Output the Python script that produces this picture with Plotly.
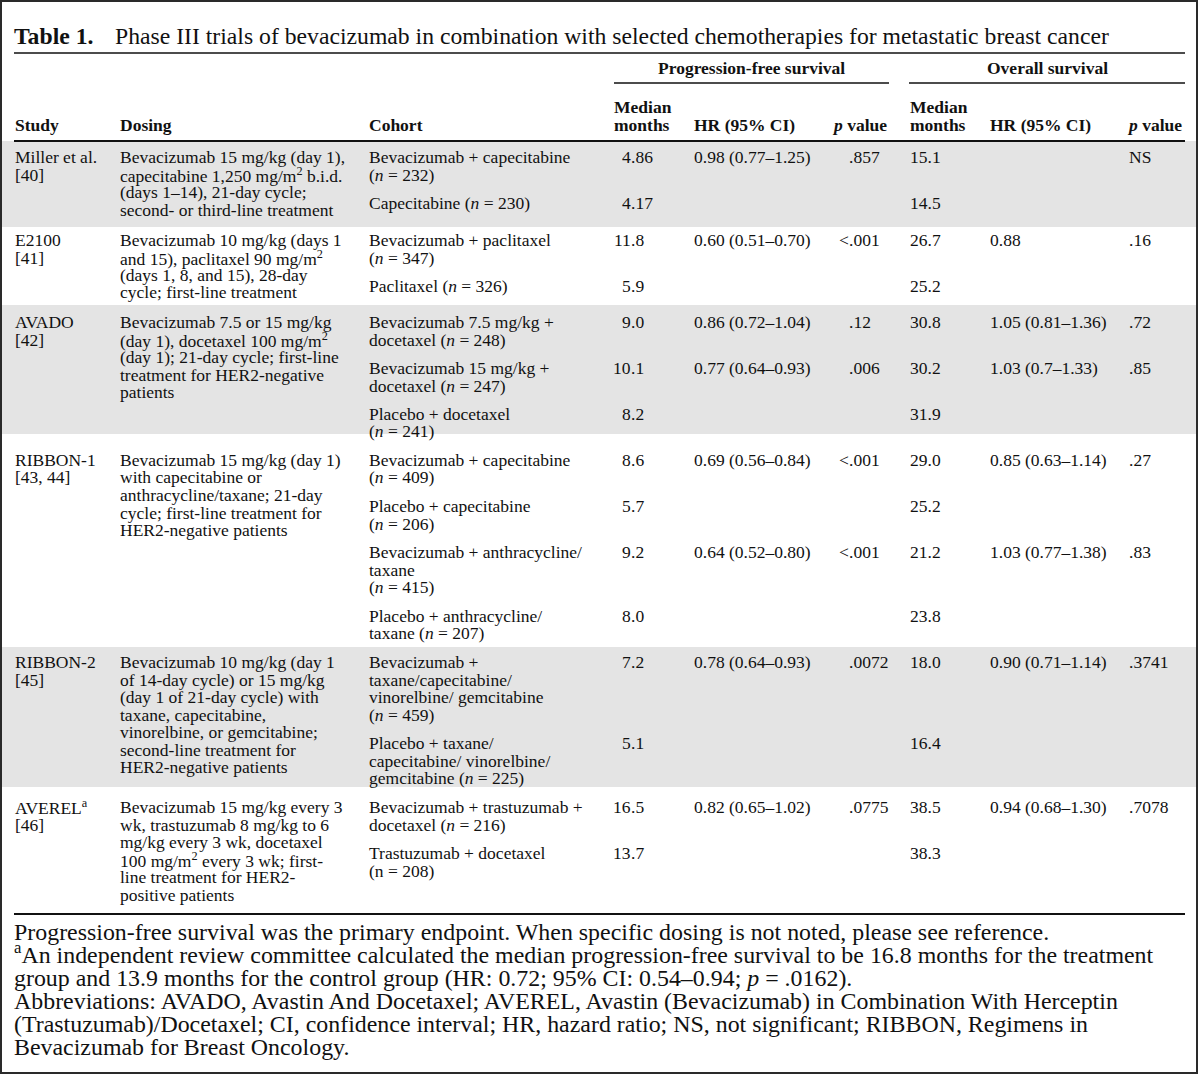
import plotly.graph_objects as go

# ---------------- data ----------------
title_bold = "Table 1."
title_text = "Phase III trials of bevacizumab in combination with selected chemotherapies for metastatic breast cancer"

group_headers = ["Progression-free survival", "Overall survival"]
col_headers = ["Study", "Dosing", "Cohort", "Median<br>months", "HR (95% CI)", "<i>p</i> value",
               "Median<br>months", "HR (95% CI)", "<i>p</i> value"]

studies = [["Miller et al.", "[40]"], ["E2100", "[41]"], ["AVADO", "[42]"],
           ["RIBBON-1", "[43, 44]"], ["RIBBON-2", "[45]"], ["AVEREL<sup>a</sup>", "[46]"]]

dosing = [
    ["Bevacizumab 15 mg/kg (day 1),", "capecitabine 1,250 mg/m<sup>2</sup> b.i.d.",
     "(days 1–14), 21-day cycle;", "second- or third-line treatment"],
    ["Bevacizumab 10 mg/kg (days 1", "and 15), paclitaxel 90 mg/m<sup>2</sup>",
     "(days 1, 8, and 15), 28-day", "cycle; first-line treatment"],
    ["Bevacizumab 7.5 or 15 mg/kg", "(day 1), docetaxel 100 mg/m<sup>2</sup>",
     "(day 1); 21-day cycle; first-line", "treatment for HER2-negative", "patients"],
    ["Bevacizumab 15 mg/kg (day 1)", "with capecitabine or", "anthracycline/taxane; 21-day",
     "cycle; first-line treatment for", "HER2-negative patients"],
    ["Bevacizumab 10 mg/kg (day 1", "of 14-day cycle) or 15 mg/kg", "(day 1 of 21-day cycle) with",
     "taxane, capecitabine,", "vinorelbine, or gemcitabine;", "second-line treatment for",
     "HER2-negative patients"],
    ["Bevacizumab 15 mg/kg every 3", "wk, trastuzumab 8 mg/kg to 6", "mg/kg every 3 wk, docetaxel",
     "100 mg/m<sup>2</sup> every 3 wk; first-", "line treatment for HER2-", "positive patients"],
]

cohorts = [
    [["Bevacizumab + capecitabine", "(<i>n</i> = 232)"], ["Capecitabine (<i>n</i> = 230)"]],
    [["Bevacizumab + paclitaxel", "(<i>n</i> = 347)"], ["Paclitaxel (<i>n</i> = 326)"]],
    [["Bevacizumab 7.5 mg/kg +", "docetaxel (<i>n</i> = 248)"],
     ["Bevacizumab 15 mg/kg +", "docetaxel (<i>n</i> = 247)"],
     ["Placebo + docetaxel", "(<i>n</i> = 241)"]],
    [["Bevacizumab + capecitabine", "(<i>n</i> = 409)"],
     ["Placebo + capecitabine", "(<i>n</i> = 206)"],
     ["Bevacizumab + anthracycline/", "taxane", "(<i>n</i> = 415)"],
     ["Placebo + anthracycline/", "taxane (<i>n</i> = 207)"]],
    [["Bevacizumab +", "taxane/capecitabine/", "vinorelbine/ gemcitabine", "(<i>n</i> = 459)"],
     ["Placebo + taxane/", "capecitabine/ vinorelbine/", "gemcitabine (<i>n</i> = 225)"]],
    [["Bevacizumab + trastuzumab +", "docetaxel (<i>n</i> = 216)"],
     ["Trastuzumab + docetaxel", "(n = 208)"]],
]

pfs_median = ["4.86", "4.17", "11.8", "5.9", "9.0", "10.1", "8.2", "8.6", "5.7", "9.2", "8.0",
              "7.2", "5.1", "16.5", "13.7"]
pfs_hr = ["0.98 (0.77–1.25)", "", "0.60 (0.51–0.70)", "", "0.86 (0.72–1.04)", "0.77 (0.64–0.93)", "",
          "0.69 (0.56–0.84)", "", "0.64 (0.52–0.80)", "", "0.78 (0.64–0.93)", "", "0.82 (0.65–1.02)", ""]
pfs_p = [".857", "", "<.001", "", ".12", ".006", "", "<.001", "", "<.001", "", ".0072", "", ".0775", ""]
os_median = ["15.1", "14.5", "26.7", "25.2", "30.8", "30.2", "31.9", "29.0", "25.2", "21.2", "23.8",
             "18.0", "16.4", "38.5", "38.3"]
os_hr = ["", "", "0.88", "", "1.05 (0.81–1.36)", "1.03 (0.7–1.33)", "", "0.85 (0.63–1.14)", "",
         "1.03 (0.77–1.38)", "", "0.90 (0.71–1.14)", "", "0.94 (0.68–1.30)", ""]
os_p = ["NS", "", ".16", "", ".72", ".85", "", ".27", "", ".83", "", ".3741", "", ".7078", ""]

footnotes = [
    "Progression-free survival was the primary endpoint. When specific dosing is not noted, please see reference.",
    "<sup>a</sup>An independent review committee calculated the median progression-free survival to be 16.8 months for the treatment",
    "group and 13.9 months for the control group (HR: 0.72; 95% CI: 0.54–0.94; <i>p</i> = .0162).",
    "Abbreviations: AVADO, Avastin And Docetaxel; AVEREL, Avastin (Bevacizumab) in Combination With Herceptin",
    "(Trastuzumab)/Docetaxel; CI, confidence interval; HR, hazard ratio; NS, not significant; RIBBON, Regimens in",
    "Bevacizumab for Breast Oncology.",
]

# ---------------- layout / style ----------------
W, H = 1200, 1076
FONT = "Liberation Serif, Times New Roman, serif"
INK = "#111111"
BAND = "#e4e4e4"
BODY = 17.5
TITLE = 23.7
FOOT = 23.9
LH = 17.5          # line spacing inside a cell
BLOCK = 28.5       # spacing between cohort blocks (line to line)
row_band_top = [141, 227, 305, 434, 647, 787]
row_band_bottom = [227, 305, 434, 647, 787, 905]
row_first_line = [157, 240, 322, 460, 662, 807]
shaded = [True, False, True, False, True, False]
X_STUDY, X_DOSING, X_COHORT = 15, 120, 369
X_PFS_MED, X_PFS_HR, X_PFS_P = 631, 694, 849
X_OS_MED, X_OS_HR, X_OS_P = 910, 990, 1129
L, R = 14, 1185

fig = go.Figure()
fig.update_layout(width=W, height=H, margin=dict(l=0, r=0, t=0, b=0),
                  paper_bgcolor="white", plot_bgcolor="white", showlegend=False,
                  xaxis=dict(visible=False), yaxis=dict(visible=False))


def px(x):
    return x / W


def py(y):
    return 1 - y / H


def txt(x, y, s, size=BODY, anchor="left", color=INK):
    fig.add_annotation(x=px(x), y=py(y), xref="paper", yref="paper", text=s, showarrow=False,
                       xanchor=anchor, yanchor="middle", align="left", borderpad=0, borderwidth=0,
                       font=dict(family=FONT, size=size, color=color))


def dec(x, y, s):
    """decimal-aligned number: the '.' sits at x"""
    if not s:
        return
    if "." in s:
        i = s.index(".")
        left, right = s[:i], s[i:]
    else:
        left, right = "", s
    if left:
        txt(x, y, left, anchor="right")
    if right:
        txt(x, y, right, anchor="left")


def hline(x0, x1, y, w):
    fig.add_shape(type="line", xref="paper", yref="paper", x0=px(x0), x1=px(x1), y0=py(y), y1=py(y),
                  line=dict(color=INK, width=w))


# shaded row bands
for top, bot, sh in zip(row_band_top, row_band_bottom, shaded):
    if sh:
        fig.add_shape(type="rect", xref="paper", yref="paper", x0=px(2), x1=px(1197), y0=py(top), y1=py(bot),
                      fillcolor=BAND, line=dict(width=0), layer="below")

# title
txt(L, 36, "<b>" + title_bold + "</b>", size=TITLE)
txt(115, 36, title_text, size=TITLE)
hline(L, R, 53, 1.5)

# group headers
txt((614 + 889) / 2, 68, "<b>" + group_headers[0] + "</b>", anchor="center")
txt((909 + R) / 2, 68, "<b>" + group_headers[1] + "</b>", anchor="center")
hline(614, 889, 83, 1.5)
hline(909, R, 83, 1.5)

# column headers
hx = [X_STUDY, X_DOSING, X_COHORT, 614, X_PFS_HR, 887, X_OS_MED, X_OS_HR, 1182]
for h, x in zip(col_headers, hx):
    anchor = "right" if "value" in h else "left"
    parts = h.split("<br>")
    if len(parts) == 2:
        txt(x, 107, "<b>" + parts[0] + "</b>", anchor=anchor)
        txt(x, 125, "<b>" + parts[1] + "</b>", anchor=anchor)
    else:
        txt(x, 125, "<b>" + parts[0] + "</b>", anchor=anchor)
hline(L, R, 141, 2)

# body
k = 0
for r in range(len(studies)):
    y0 = row_first_line[r]
    for i, s in enumerate(studies[r]):
        txt(X_STUDY, y0 + i * LH, s)
    for i, s in enumerate(dosing[r]):
        txt(X_DOSING, y0 + i * LH, s)
    y = y0
    for block in cohorts[r]:
        for i, s in enumerate(block):
            txt(X_COHORT, y + i * LH, s)
        dec(X_PFS_MED, y, pfs_median[k])
        if pfs_hr[k]:
            txt(X_PFS_HR, y, pfs_hr[k])
        dec(X_PFS_P, y, pfs_p[k])
        if os_median[k]:
            txt(X_OS_MED, y, os_median[k])
        if os_hr[k]:
            txt(X_OS_HR, y, os_hr[k])
        if os_p[k]:
            txt(X_OS_P, y, os_p[k])
        k += 1
        y = y + (len(block) - 1) * LH + BLOCK

hline(L, R, 914, 2)

# footnotes (a leading superscript enlarges the text box, so nudge that line up)
for i, s in enumerate(footnotes):
    nudge = -2.5 if s.startswith("<sup>") else 0
    txt(L, 932 + i * 23 + nudge, s, size=FOOT)

# outer frame
fig.add_shape(type="rect", xref="paper", yref="paper", x0=px(1), x1=px(1197), y0=py(1), y1=py(1073),
              line=dict(color="#2a2a2a", width=2), fillcolor="rgba(0,0,0,0)")

fig.write_html("out.html", config={"displayModeBar": False},
               post_script="document.body.style.margin='0';document.body.style.overflow='hidden';")
